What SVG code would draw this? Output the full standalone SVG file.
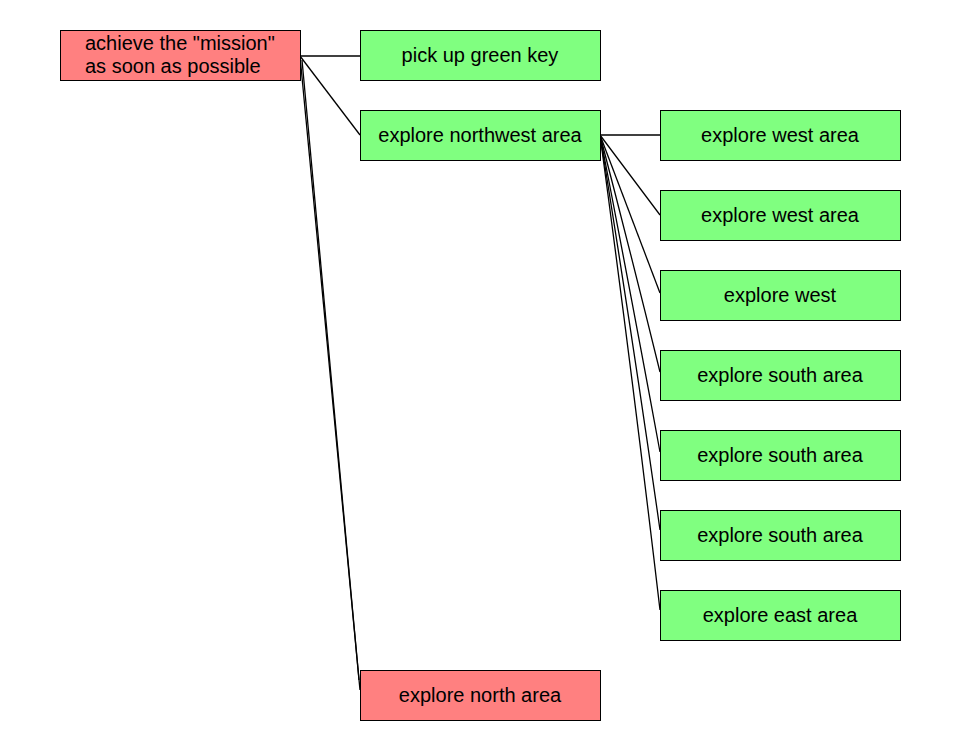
<svg xmlns="http://www.w3.org/2000/svg" width="960" height="750" viewBox="0 0 960 750">
<style>
.box rect{stroke:#000;stroke-width:1}
.red rect{fill:#ff8080}
.green rect{fill:#80ff80}
text{font-family:"Liberation Sans",Arial,sans-serif;font-size:20px;fill:#000}
.c{text-anchor:middle}
#edges line,#edges path{stroke:#000;stroke-width:1.3;fill:none}
</style>
<rect width="960" height="750" fill="#fff"/>
<g id="edges">
<line x1="300" y1="56" x2="360" y2="56"/>
<line x1="300" y1="56" x2="360" y2="135"/>
<line x1="300" y1="56" x2="360" y2="690"/>
<line x1="302" y1="60" x2="359" y2="680"/>
<line x1="600" y1="135" x2="660" y2="135"/>
<line x1="600" y1="135" x2="660" y2="215"/>
<path d="M600,135 Q625,200 660,293"/>
<path d="M600,135 Q630,250 660,372"/>
<path d="M600,135 Q632,300 660,452"/>
<path d="M600,135 Q633,340 660,530"/>
<path d="M600,135 Q633,380 660,610"/>
</g>
<g id="n0" class="box red"><rect x="60.5" y="30.5" width="240" height="50"/><text x="85" y="50">achieve the "mission"</text><text x="85" y="73">as soon as possible</text></g>
<g id="n1" class="box green"><rect x="360.5" y="30.5" width="240" height="50"/><text class="c" x="480" y="62">pick up green key</text></g>
<g id="n2" class="box green"><rect x="360.5" y="110.5" width="240" height="50"/><text class="c" x="480" y="142">explore northwest area</text></g>
<g id="n3" class="box red"><rect x="360.5" y="670.5" width="240" height="50"/><text class="c" x="480" y="702">explore north area</text></g>
<g id="n4" class="box green"><rect x="660.5" y="110.5" width="240" height="50"/><text class="c" x="780" y="142">explore west area</text></g>
<g id="n5" class="box green"><rect x="660.5" y="190.5" width="240" height="50"/><text class="c" x="780" y="222">explore west area</text></g>
<g id="n6" class="box green"><rect x="660.5" y="270.5" width="240" height="50"/><text class="c" x="780" y="302">explore west</text></g>
<g id="n7" class="box green"><rect x="660.5" y="350.5" width="240" height="50"/><text class="c" x="780" y="382">explore south area</text></g>
<g id="n8" class="box green"><rect x="660.5" y="430.5" width="240" height="50"/><text class="c" x="780" y="462">explore south area</text></g>
<g id="n9" class="box green"><rect x="660.5" y="510.5" width="240" height="50"/><text class="c" x="780" y="542">explore south area</text></g>
<g id="n10" class="box green"><rect x="660.5" y="590.5" width="240" height="50"/><text class="c" x="780" y="622">explore east area</text></g>
</svg>
